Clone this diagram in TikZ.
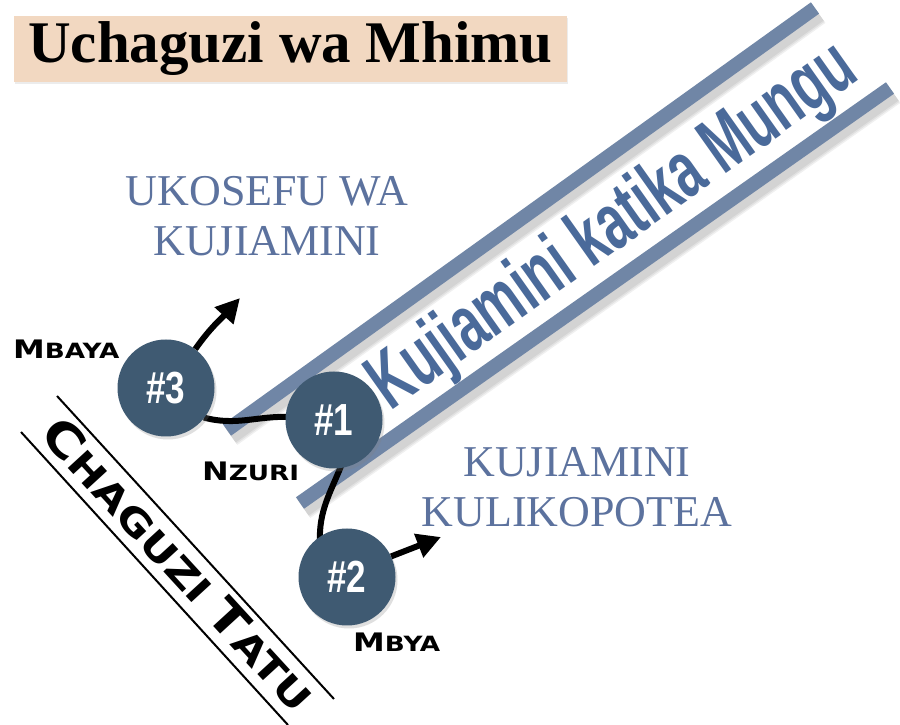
\documentclass[tikz,border=0pt]{standalone}
\usepackage{fontspec}
\setmainfont{Liberation Serif}
\newfontfamily\lsans{Liberation Sans}
\newfontfamily\dvs{DejaVu Sans}
\usetikzlibrary{arrows.meta,shadows}
\definecolor{barcol}{RGB}{112,134,166}
\definecolor{circcol}{RGB}{63,90,114}
\definecolor{textblue}{RGB}{74,106,154}
\definecolor{lightblue}{RGB}{92,114,158}
\definecolor{peach}{RGB}{242,216,193}
\newcommand\scl[2]{{\fontsize{25.5}{26}\selectfont #1}{\fontsize{21}{21}\selectfont #2}}
\begin{document}
\begin{tikzpicture}[x=1pt,y=1pt,
  bar/.style={line width=14pt,draw=barcol},
  barshadow/.style={draw=black,opacity=0.06},
  numcirc/.style={circle,fill=circcol,minimum size=97pt,inner sep=0pt,text=white,
    font=\lsans\bfseries\fontsize{45}{45}\selectfont,
    drop shadow={opacity=0.25,shadow xshift=2pt,shadow yshift=-3pt}},
  conn/.style={line width=6pt,draw=black},
  arr/.style={conn,-{Triangle[length=24pt,width=24pt]}},
  sclabel/.style={anchor=base west,inner sep=0pt,font=\dvs\bfseries},
  bigblue/.style={text=lightblue,font=\fontsize{44}{50}\selectfont,align=center,anchor=north,inner sep=0pt},
  thinline/.style={line width=2pt,draw=black}
]
\useasboundingbox (0,0) rectangle (900,725);
\fill[white] (0,0) rectangle (900,725);

% title
\node[fill=peach,minimum width=553pt,minimum height=66pt,inner sep=0pt,
  font=\bfseries\fontsize{59}{59}\selectfont,
  drop shadow={opacity=0.15,shadow xshift=1pt,shadow yshift=-2pt}] (title) at (290.5,676) {Uchaguzi wa Mhimu};

% bars
\coordinate (b1s) at (227,295);
\coordinate (b1e) at (815,717);
\coordinate (b2s) at (300,222);
\coordinate (b2e) at (890,637);
\foreach \w in {22,19,16} {
  \draw[barshadow,line width=\w pt] ([shift={(4,-6)}]b1s) -- ([shift={(4,-6)}]b1e);
  \draw[barshadow,line width=\w pt] ([shift={(4,-6)}]b2s) -- ([shift={(4,-6)}]b2e);
}
\draw[bar] (b1s) -- (b1e);
\draw[bar] (b2s) -- (b2e);

\node[rotate=35.3,text=textblue,inner sep=0pt,font=\lsans\bfseries\fontsize{80}{80}\selectfont] (kk) at (614,497) {\scalebox{0.645}[1]{Kujiamini katika Mungu}};

% blue texts
\node[bigblue] (uko) at (267,549) {UKOSEFU WA\\KUJIAMINI};
\node[bigblue] (kuj) at (577,278) {KUJIAMINI\\KULIKOPOTEA};

% choices band
\coordinate (l1s) at (57,329);
\coordinate (l1e) at (334,26);
\coordinate (l2s) at (21,293);
\coordinate (l2e) at (288,0);
\draw[thinline] (l1s) -- (l1e);
\draw[thinline] (l2s) -- (l2e);
\node[rotate=-47.5,inner sep=0pt,font=\dvs\bfseries] (ct) at (179,161)
  {\scalebox{1.19}[1]{{\fontsize{46}{46}\selectfont C}{\fontsize{37}{37}\selectfont HAGUZI}\hspace{12pt}{\fontsize{46}{46}\selectfont T}{\fontsize{37}{37}\selectfont ATU}}};

% connectors (behind circles)
\coordinate (n3c) at (166,337);
\coordinate (n1c) at (334,305);
\coordinate (n2c) at (347,148);
\draw[conn] ([shift={(-38:48)}]n3c) to[out=-15,in=178] ([shift={(176:44)}]n1c);
\draw[conn] ([shift={(-80:45)}]n1c) to[out=-112,in=92] ([shift={(128:44)}]n2c);

% circles
\node[numcirc] (n3) at (n3c) {\scalebox{0.78}[1]{\#3}};
\node[numcirc] (n1) at (n1c) {\scalebox{0.78}[1]{\#1}};
\node[numcirc] (n2) at (n2c) {\scalebox{0.78}[1]{\#2}};

% arrows
\coordinate (a3) at (240,427);
\coordinate (a2) at (441,188);
\draw[arr] (n3.53) to[out=55,in=228] (a3);
\draw[arr] (n2.25) -- (a2);

% labels
\node[sclabel] (lmbaya) at (13,366) {\scalebox{1.25}[1]{\scl{M}{BAYA}}};
\node[sclabel] (lnzuri) at (202,244) {\scalebox{1.25}[1]{\scl{N}{ZURI}}};
\node[sclabel] (lmbya) at (353,73) {\scalebox{1.25}[1]{\scl{M}{BYA}}};
\end{tikzpicture}
\end{document}
